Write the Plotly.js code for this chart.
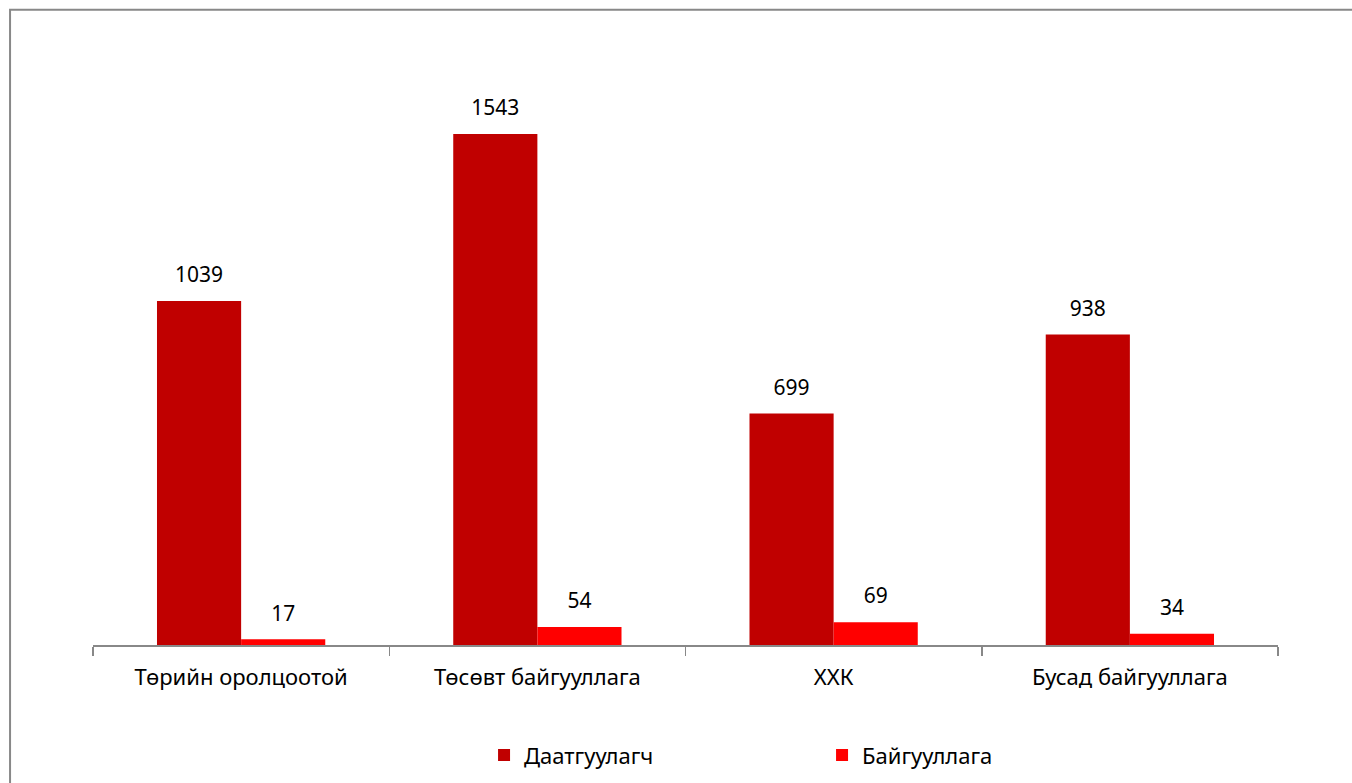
<!DOCTYPE html>
<html><head><meta charset="utf-8">
<script src="https://cdn.plot.ly/plotly-3.0.1.min.js"></script>
<style>html,body{margin:0;padding:0;background:#fff}#c{width:1352px;height:783px}</style>
</head><body><div id="c"></div>
<script>
const categories = ["Төрийн оролцоотой", "Төсөвт байгууллага", "ХХК", "Бусад байгууллага"];
const insuredValues = [1039, 1543, 699, 938];
const orgValues = [17, 54, 69, 34];
const seriesNames = ["Даатгуулагч", "Байгууллага"];
const fontFam = "Noto Sans, Open Sans, sans-serif";
const colors = ['#C00000', '#FF0000'];
const seriesValues = [insuredValues, orgValues];
const traces = [];
seriesValues.forEach((vals, i) => {
  traces.push({type:'bar', x:categories, y:vals, name:seriesNames[i], marker:{color:colors[i]},
    offsetgroup:String(i), hoverinfo:'skip'});
});
seriesValues.forEach((vals, i) => {
  traces.push({type:'scatter', mode:'markers+text', x:categories, y:vals, text:vals.map(String),
    textposition:'top center', cliponaxis:false, showlegend:false, offsetgroup:String(i),
    marker:{size:20, opacity:0, color:colors[i]},
    textfont:{size:21, color:'#000', family:fontFam}});
});
const layout = {
  width:1352, height:783,
  margin:{l:93, r:74, t:49, b:138, autoexpand:false},
  paper_bgcolor:'#fff', plot_bgcolor:'#fff',
  barmode:'group', bargap:0.432, bargroupgap:0,
  scattermode:'group', scattergap:0.432,
  font:{family:fontFam, color:'#000', size:22},
  xaxis:{showline:true, linecolor:'#888', linewidth:1.5, ticks:'outside', tickson:'boundaries',
         ticklen:9, tickcolor:'#888', tickwidth:1.5, ticklabelstandoff:12, automargin:false,
         tickfont:{size:22, family:fontFam, color:'#000'},
         showgrid:false, zeroline:false},
  yaxis:{range:[0,1800], visible:false, showgrid:false, zeroline:false},
  showlegend:true,
  legend:{orientation:'h', x:0.33, xanchor:'left', y:-0.185, yanchor:'middle',
          entrywidth:293, entrywidthmode:'pixels', font:{size:22, family:fontFam, color:'#000'}},
  shapes:[{type:'rect', xref:'paper', yref:'paper', x0:-0.07, x1:1.2, y0:-0.5, y1:1.066,
           line:{color:'#888', width:2}, fillcolor:'rgba(0,0,0,0)', layer:'above'}]
};
Plotly.newPlot('c', traces, layout, {displayModeBar:false, staticPlot:true});
</script></body></html>
